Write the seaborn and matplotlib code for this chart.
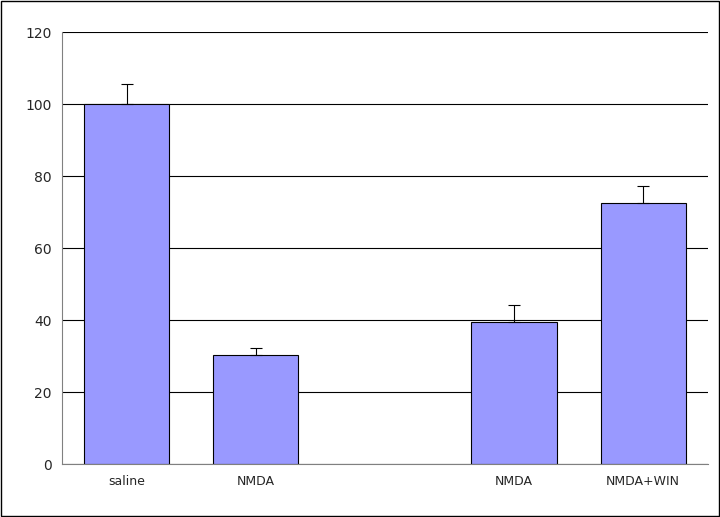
import numpy as np
import pandas as pd
import matplotlib
matplotlib.use("Agg")
import matplotlib.pyplot as plt
import seaborn as sns

categories = ["saline", "NMDA", "", "NMDA", "NMDA+WIN"]
values = [100.0, 30.3, np.nan, 39.5, 72.5]
errors = [5.5, 2.0, 0.0, 4.8, 4.8]

sns.set_style("white")
plt.rcParams['font.family'] = ['DejaVu Sans']

slots = [f"s{i}" for i in range(len(categories))]
df = pd.DataFrame({"slot": slots, "value": values})

fig = plt.figure(figsize=(7.2, 5.17), dpi=100)
ax = fig.add_axes([0.086, 0.1025, 0.897, 0.8355])
ax.set_axisbelow(True)
ax.yaxis.grid(True, color="black", linewidth=0.8)
sns.barplot(data=df, x="slot", y="value", order=slots, color="#9999FF",
            saturation=1, edgecolor="black", linewidth=0.8, width=0.66, ax=ax)
for i, (v, e) in enumerate(zip(values, errors)):
    if not np.isnan(v):
        ax.errorbar(i, v, yerr=[[0], [e]], fmt="none", ecolor="black",
                    elinewidth=0.8, capsize=4, capthick=0.8)
ax.set_xlim(-0.5, len(slots) - 0.5)
ax.set_ylim(0, 120)
ax.set_yticks(range(0, 121, 20))
ax.set_xticks(range(len(slots)))
ax.set_xticklabels(categories, fontsize=9)
ax.set_xticks(np.arange(-0.5, len(slots), 1), minor=True)
ax.tick_params(axis="x", which="major", length=0, pad=8)
ax.tick_params(axis="x", which="minor", length=4, direction="out", color="black")
ax.tick_params(axis="y", labelsize=10, length=4, direction="out", color="black")
ax.set_xlabel("")
ax.set_ylabel("")
for s in ["top", "right"]:
    ax.spines[s].set_visible(False)
for s in ["left", "bottom"]:
    ax.spines[s].set_color("gray")
fig.patches.append(plt.Rectangle((0.001, 0.001), 0.998, 0.998, transform=fig.transFigure,
                                 fill=False, edgecolor="black", linewidth=1))
fig.savefig("out.png", dpi=100)
